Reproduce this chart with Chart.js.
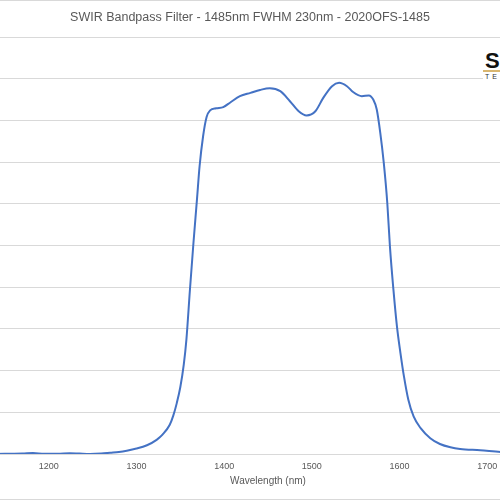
<!DOCTYPE html>
<html>
<head>
<meta charset="utf-8">
<script src="https://cdn.jsdelivr.net/npm/chart.js@4/dist/chart.umd.min.js"></script>
<style>
  html, body { margin: 0; padding: 0; background: #fff; overflow: hidden; }
  #wrap { position: relative; width: 500px; height: 500px; overflow: hidden; }
  #chart { position: absolute; left: -100px; top: 0; }
  .edge { position: absolute; left: 0; width: 500px; height: 1px; background: #d9d9d9; }
  #logo { position: absolute; left: 483px; top: 50px; width: 17px; height: 30px; background: #fff; overflow: hidden; }
  #logo .s { position: absolute; left: 2px; top: -2px; font: bold 22px "Liberation Sans", sans-serif; color: #111; }
  #logo .bar { position: absolute; left: 0; top: 20px; width: 17px; height: 2px; background: #d9b66f; }
  #logo .te { position: absolute; left: 2px; top: 23px; font: 7px "Liberation Sans", sans-serif; letter-spacing: 3px; color: #333; }
</style>
</head>
<body>
<div id="wrap">
  <canvas id="chart" width="700" height="500"></canvas>
  <div class="edge" style="top:0"></div>
  <div class="edge" style="top:499px"></div>
  <div id="logo"><span class="s">S</span><div class="bar"></div><span class="te">TE</span></div>
</div>
<script>
// values
const wavelength = [1130, 1150, 1170, 1182, 1195, 1210, 1224, 1235, 1247, 1260, 1270, 1280, 1289, 1300,
  1312, 1323, 1330, 1338, 1342, 1346, 1350, 1354, 1357, 1361, 1365, 1369, 1372, 1376, 1380, 1384,
  1391, 1399, 1407, 1418, 1430, 1441, 1452, 1464, 1475, 1485, 1494, 1504, 1513, 1523, 1531, 1540,
  1547, 1557, 1565, 1570, 1574, 1578, 1582, 1586, 1589, 1593, 1597, 1601, 1605, 1610, 1616, 1624,
  1635, 1646, 1658, 1669, 1692, 1715, 1740, 1770, 1800];
const transmission = [0.0, 0.05, 0.1, 0.25, 0.05, 0.05, 0.2, 0.1, 0.0, 0.1, 0.3, 0.5, 0.8, 1.3,
  2.1, 3.4, 4.7, 7.0, 9.2, 12.2, 16.0, 21.5, 27.5, 39.4, 50.6, 61, 69, 76.2, 80.8, 82.4,
  82.9, 83.2, 84.3, 85.8, 86.6, 87.3, 87.7, 87.0, 84.6, 82.2, 81.2, 82.2, 85.4, 88.2, 89.0, 88.2,
  86.8, 85.8, 86.0, 85.0, 82.6, 77, 69.8, 60.2, 49.8, 39.4, 30.6, 24.2, 18.6, 13, 9, 6.2,
  3.8, 2.4, 1.6, 1.2, 0.9, 0.5, 0.3, 0.2, 0.1];
const xTicks = [1100, 1200, 1300, 1400, 1500, 1600, 1700, 1800];
const yTicks = [0, 10, 20, 30, 40, 50, 60, 70, 80, 90, 100];

const titleText = "SWIR Bandpass Filter - 1485nm FWHM 230nm - 2020OFS-1485";
const xTitle = "Wavelength (nm)";

const points = wavelength.map((w, i) => ({ x: w, y: transmission[i] }));
const grey = "#595959";
const gridGrey = "#d9d9d9";

new Chart(document.getElementById("chart").getContext("2d"), {
  type: "line",
  data: {
    datasets: [{
      data: points,
      borderColor: "#4472C4",
      borderWidth: 2,
      pointRadius: 0,
      cubicInterpolationMode: "monotone",
      fill: false
    }]
  },
  options: {
    responsive: false,
    animation: false,
    layout: { padding: { left: 25, right: 25, top: 10, bottom: 13 } },
    plugins: {
      legend: { display: false },
      tooltip: { enabled: false },
      title: {
        display: true,
        text: titleText,
        color: grey,
        font: { family: "Liberation Sans", size: 12.5, weight: "normal" },
        padding: { top: 0, bottom: 12 }
      }
    },
    scales: {
      x: {
        type: "linear",
        min: 1100,
        max: 1800,
        afterBuildTicks: (axis) => { axis.ticks = xTicks.map(v => ({ value: v })); },
        afterFit: (axis) => { axis.height = 33; },
        grid: { display: false, drawTicks: false, tickLength: 0 },
        border: { display: true, color: gridGrey, width: 1 },
        ticks: {
          color: grey,
          padding: 7,
          maxRotation: 0,
          font: { family: "Liberation Sans", size: 9 },
          callback: (v) => String(v)
        },
        title: {
          display: true,
          text: xTitle,
          color: grey,
          padding: { top: 4, bottom: 0 },
          font: { family: "Liberation Sans", size: 10 }
        }
      },
      y: {
        min: 0,
        max: 100,
        afterBuildTicks: (axis) => { axis.ticks = yTicks.map(v => ({ value: v })); },
        afterFit: (axis) => { axis.width = 36; },
        grid: { color: gridGrey, drawTicks: false, tickLength: 0 },
        border: { display: false },
        ticks: { display: false }
      }
    }
  }
});
</script>
</body>
</html>
